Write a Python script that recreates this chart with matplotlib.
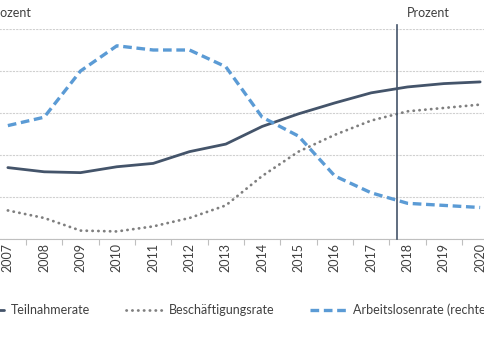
import numpy as np
import matplotlib.pyplot as plt

# Data (left axis in %, right axis in %)
years = [2007, 2008, 2009, 2010, 2011, 2012, 2013, 2014, 2015, 2016, 2017, 2018, 2019, 2020]
teilnahme = [68.5, 68.0, 67.9, 68.6, 69.0, 70.4, 71.3, 73.4, 74.9, 76.2, 77.4, 78.1, 78.5, 78.7]
beschaeftigung = [63.4, 62.5, 61.0, 60.9, 61.5, 62.5, 64.0, 67.5, 70.4, 72.4, 74.1, 75.2, 75.6, 76.0]
arbeitslos = [7.4, 7.8, 10.0, 11.2, 11.0, 11.0, 10.2, 7.8, 6.9, 5.0, 4.2, 3.7, 3.6, 3.5]
forecastStart = 2017.7
leftLim = (60, 85)
rightLim = (2, 12)
labels = ["Teilnahmerate", "Beschäftigungsrate", "Arbeitslosenrate (rechte Skala)"]

plt.rcParams['font.family'] = ['Lato', 'DejaVu Sans']
fs = 9

fig = plt.figure(figsize=(4.85, 3.6), dpi=100)
# plot area runs past the figure edges, like the cropped reference
ax = fig.add_axes([-10.3 / 485, 121 / 360, 508.6 / 485, 210 / 360])
ax2 = ax.twinx()

ax.set_xlim(2006.5, 2020.5)
ax.set_ylim(*leftLim)
ax2.set_ylim(*rightLim)
ax.set_yticks(np.arange(leftLim[0], leftLim[1] + 1, 5))
ax2.set_yticks([])
ax.yaxis.grid(True, color='#d0d0d0', lw=0.8, linestyle=(0, (2, 1)))
ax.set_axisbelow(True)
ax.tick_params(axis='y', length=0, labelleft=False)

for s in ['top', 'right', 'left']:
    ax.spines[s].set_visible(False)
    ax2.spines[s].set_visible(False)
ax2.spines['bottom'].set_visible(False)
ax.spines['bottom'].set_color('#bfbfbf')

ax.set_xticks(np.arange(2006.5, 2021, 1))
ax.set_xticklabels([])
ax.tick_params(axis='x', which='major', length=4, color='#bfbfbf')
ax.set_xticks(years, minor=True)
ax.set_xticklabels([str(y) for y in years], minor=True, rotation=90, fontsize=fs, color='#404040')
ax.tick_params(axis='x', which='minor', length=0, pad=3)

l1, = ax.plot(years, teilnahme, color='#44546a', lw=2.0, solid_capstyle='round', label=labels[0])
l2, = ax.plot(years, beschaeftigung, color='#7f7f7f', lw=2.0, linestyle=(0, (0.1, 2.0)),
              dash_capstyle='round', label=labels[1])
l3, = ax2.plot(years, arbeitslos, color='#5b9bd5', lw=2.4, linestyle=(0, (2.6, 1.4)), label=labels[2])

ax.axvline(forecastStart, ymin=0, ymax=1.02, color='#44546a', lw=1.2, clip_on=False, zorder=5)

fig.text(32 / 485, 1 - 13 / 360, "Prozent", ha='right', va='center', fontsize=fs, color='#404040')
fig.text(428 / 485, 1 - 13 / 360, "Prozent", ha='center', va='center', fontsize=fs, color='#404040')

fig.legend(handles=[l1, l2, l3], loc='center left', bbox_to_anchor=(-32 / 485, 1 - 310 / 360),
           ncol=3, frameon=False, fontsize=fs, handlelength=2.9, handletextpad=0.5,
           columnspacing=2.9, borderpad=0, borderaxespad=0, labelcolor='#404040')

fig.savefig("out.png", dpi=100)
